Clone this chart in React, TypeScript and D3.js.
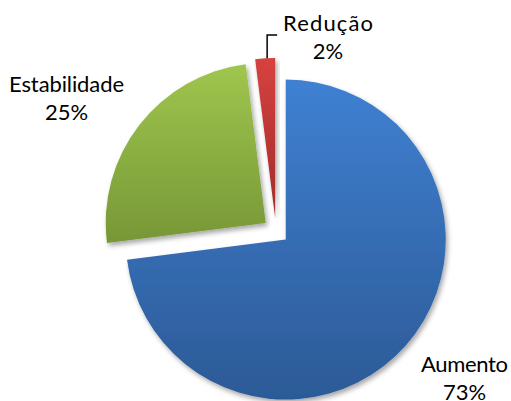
import React from "react";
import * as d3 from "d3";

const categories = ["Aumento", "Estabilidade", "Redução"];
const values = [73, 25, 2];
const percentLabels = ["73%", "25%", "2%"];

const W = 511;
const H = 401;
const CX = 276;
const CY = 231;
const R = 160;
const EXPLODE = 13;

const gradients = [
  { id: "gBlue", top: "#3f80d2", bottom: "#2c5a96" },
  { id: "gGreen", top: "#9fc64d", bottom: "#779737" },
  { id: "gRed", top: "#d6423f", bottom: "#a12c2a" },
];

// label layout (center x, first baseline, first line width)
const labelPos = [
  { x: 464.5, y: 372, w: 87 },
  { x: 66.5, y: 92, w: 115 },
  { x: 328, y: 31, w: 90 },
];
const LINE_GAP = 28;

export default function App() {
  const pie = d3
    .pie<number>()
    .sort(null)
    .value((d) => d)
    .startAngle(0)
    .endAngle(2 * Math.PI);
  const arcs = pie(values);
  const arc = d3.arc<d3.PieArcDatum<number>>().innerRadius(0).outerRadius(R);

  const offsets = arcs.map((a) => {
    const mid = (a.startAngle + a.endAngle) / 2;
    return [Math.sin(mid) * EXPLODE, -Math.cos(mid) * EXPLODE];
  });

  // leader line for the small slice
  const redIdx = 2;
  const redMid = (arcs[redIdx].startAngle + arcs[redIdx].endAngle) / 2;
  const lx = CX + offsets[redIdx][0] + Math.sin(redMid) * R + 2;
  const ly = CY + offsets[redIdx][1] - Math.cos(redMid) * R;
  const leader = `M${lx},${ly} L${lx},35 L${lx + 10},35`;

  return (
    <svg
      width={W}
      height={H}
      style={{ position: "absolute", left: 0, top: 0, background: "#fff" }}
      fontFamily="Lato, 'Liberation Sans', sans-serif"
    >
      <defs>
        {gradients.map((g) => (
          <linearGradient key={g.id} id={g.id} x1="0" y1="0" x2="0" y2="1">
            <stop offset="0" stopColor={g.top} />
            <stop offset="1" stopColor={g.bottom} />
          </linearGradient>
        ))}
        <filter id="shadow" x="-20%" y="-20%" width="140%" height="140%">
          <feDropShadow dx="2" dy="3" stdDeviation="2.5" floodColor="#000" floodOpacity="0.35" />
        </filter>
      </defs>
      <g transform={`translate(${CX},${CY})`}>
        {arcs.map((a, i) => (
          <path
            key={categories[i]}
            d={arc(a) || ""}
            transform={`translate(${offsets[i][0]},${offsets[i][1]})`}
            fill={`url(#${gradients[i].id})`}
            filter="url(#shadow)"
          />
        ))}
      </g>
      <path d={leader} fill="none" stroke="#000" strokeWidth={1.5} />
      {categories.map((c, i) => (
        <g key={c} fontSize={22} fill="#000" textAnchor="middle">
          <text
            x={labelPos[i].x}
            y={labelPos[i].y}
            textLength={labelPos[i].w}
            lengthAdjust="spacing"
          >
            {c}
          </text>
          <text x={labelPos[i].x} y={labelPos[i].y + LINE_GAP}>
            {percentLabels[i]}
          </text>
        </g>
      ))}
    </svg>
  );
}
